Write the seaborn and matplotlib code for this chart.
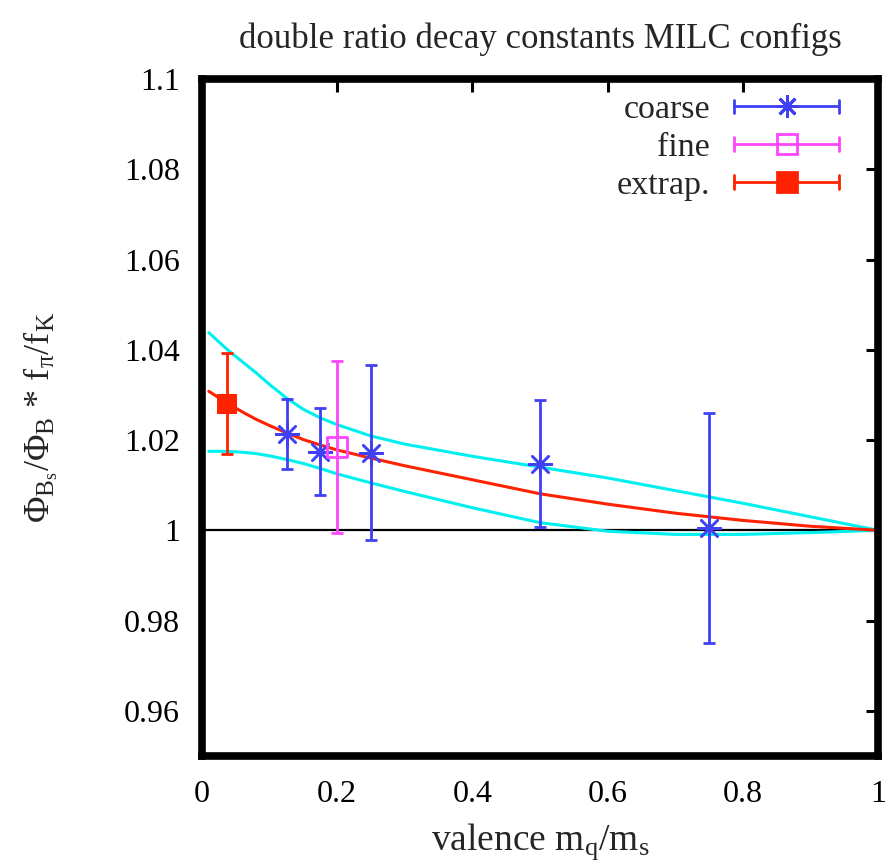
import numpy as np
import pandas as pd
import seaborn as sns
import matplotlib
matplotlib.use("Agg")
import matplotlib.pyplot as plt
from matplotlib.lines import Line2D
from matplotlib.legend_handler import HandlerBase

# ---- data -------------------------------------------------------------
coarse_x = [0.125, 0.175, 0.25, 0.5, 0.75]
coarse_y = [1.0213, 1.0174, 1.0172, 1.0148, 1.0005]
coarse_err = [0.0077, 0.0096, 0.0194, 0.0140, 0.0254]

fine_x = [0.2]
fine_y = [1.0185]
fine_err = [0.0190]

extrap_x = [0.037]
extrap_y = [1.028]
extrap_err = [0.0112]

# chiral fit and its error band
fit_x = [0.01, 0.037, 0.06, 0.08, 0.1, 0.125, 0.15, 0.175, 0.2, 0.25, 0.3,
         0.4, 0.5, 0.6, 0.7, 0.8, 0.9, 1.0]
fit_y = [1.0308, 1.0282, 1.0262, 1.0246, 1.0232, 1.0216, 1.0201, 1.0189,
         1.0178, 1.0160, 1.0143, 1.0112, 1.0081, 1.0058, 1.0038, 1.0022,
         1.0009, 1.0]
band_hi = [1.0438, 1.0401, 1.0373, 1.0349, 1.0323, 1.0293, 1.0268, 1.0249,
           1.0234, 1.0209, 1.0191, 1.0164, 1.0140, 1.0116, 1.0088, 1.0060,
           1.0030, 1.0]
band_lo = [1.0175, 1.0175, 1.0173, 1.0170, 1.0165, 1.0157, 1.0148, 1.0137,
           1.0125, 1.0105, 1.0086, 1.0050, 1.0017, 0.9998, 0.9991, 0.9991,
           0.9995, 1.0]

xticks = [0, 0.2, 0.4, 0.6, 0.8, 1]
xticklabels = ["0", "0.2", "0.4", "0.6", "0.8", "1"]
yticks = [0.96, 0.98, 1.0, 1.02, 1.04, 1.06, 1.08, 1.1]
yticklabels = ["0.96", "0.98", "1", "1.02", "1.04", "1.06", "1.08", "1.1"]

# ---- style ------------------------------------------------------------
sns.set_theme(style="white")
plt.rcParams["font.family"] = ["Liberation Serif", "DejaVu Serif"]
plt.rcParams["mathtext.fontset"] = "custom"
plt.rcParams["mathtext.rm"] = "Liberation Serif"
plt.rcParams["mathtext.it"] = "Liberation Serif"
plt.rcParams["mathtext.bf"] = "Liberation Serif:bold"

BLUE = "#4040f5"
MAGENTA = "#ff44ff"
RED = "#ff2200"
CYAN = "#00f0f0"
FS_TICK = 23
FS_KEY = 24.5
FS_LABEL = 26

fig = plt.figure(figsize=(8.9, 8.64), dpi=100)
ax = fig.add_axes([0.227, 0.125, 0.7595, 0.7836])

fit_df = pd.DataFrame({"x": fit_x, "fit": fit_y, "hi": band_hi, "lo": band_lo})

ax.axhline(1.0, color="black", lw=1.6, zorder=1)
for col, c in (("hi", CYAN), ("lo", CYAN), ("fit", RED)):
    sns.lineplot(data=fit_df, x="x", y=col, ax=ax, color=c, lw=2.2,
                 sort=False, estimator=None, zorder=2)

asterisk = (8, 2, 0)
ax.errorbar(coarse_x, coarse_y, yerr=coarse_err, fmt="none", ecolor=BLUE,
            elinewidth=2, capsize=4, capthick=2, zorder=3)
sns.scatterplot(x=coarse_x, y=coarse_y, ax=ax, marker=asterisk, s=270,
                color=BLUE, linewidth=1.8, edgecolor=BLUE, zorder=4)

ax.errorbar(fine_x, fine_y, yerr=fine_err, fmt="none", ecolor=MAGENTA,
            elinewidth=2, capsize=4, capthick=2, zorder=3)
sns.scatterplot(x=fine_x, y=fine_y, ax=ax, marker="s", s=200,
                facecolor="none", edgecolor=MAGENTA, linewidth=2, zorder=4)

ax.errorbar(extrap_x, extrap_y, yerr=extrap_err, fmt="none", ecolor=RED,
            elinewidth=2, capsize=4, capthick=2, zorder=3)
sns.scatterplot(x=extrap_x, y=extrap_y, ax=ax, marker="s", s=210,
                color=RED, edgecolor=RED, linewidth=0, zorder=4)

ax.set_xlim(0, 1)
ax.set_ylim(0.95, 1.1)
ax.set_xticks(xticks)
ax.set_xticklabels(xticklabels)
ax.set_yticks(yticks)
ax.set_yticklabels(yticklabels)
ax.tick_params(axis="both", direction="in", length=9, width=2.2,
               labelsize=FS_TICK, top=True, right=True, colors="black")
ax.tick_params(axis="y", pad=16)
ax.tick_params(axis="x", pad=17)
for sp in ax.spines.values():
    sp.set_visible(True)
    sp.set_color("black")
    sp.set_linewidth(5.5)

ax.set_xlabel(r"valence m$_\mathrm{q}$/m$_\mathrm{s}$", fontsize=27,
              labelpad=9)
ax.set_ylabel(r"$\mathrm{\Phi_{B_s}/\Phi_B}$ * f$_\pi$/f$_\mathrm{K}$",
              fontsize=FS_LABEL, labelpad=46)
ax.set_title("double ratio decay constants MILC configs", fontsize=25, pad=22)


class ErrorbarKey(HandlerBase):
    """Horizontal error-bar sample with end caps and a centred marker."""

    def __init__(self, marker, ms, mfc, **kw):
        super().__init__(**kw)
        self.marker, self.ms, self.mfc = marker, ms, mfc

    def create_artists(self, legend, orig_handle, xdescent, ydescent,
                       width, height, fontsize, trans):
        c = orig_handle.get_color()
        y = height / 2 - ydescent
        x0, x1 = -xdescent, width - xdescent
        cap = 5
        arts = [
            Line2D([x0, x1], [y, y], color=c, lw=2),
            Line2D([x0, x0], [y - cap, y + cap], color=c, lw=2),
            Line2D([x1, x1], [y - cap, y + cap], color=c, lw=2),
            Line2D([(x0 + x1) / 2], [y], marker=self.marker, ms=self.ms,
                   mfc=self.mfc, mec=c, mew=2, ls="none"),
        ]
        for a in arts:
            a.set_transform(trans)
        return arts


h_coarse = Line2D([], [], color=BLUE)
h_fine = Line2D([], [], color=MAGENTA)
h_extrap = Line2D([], [], color=RED)
ax.legend([h_coarse, h_fine, h_extrap], ["coarse", "fine", "extrap."],
          handler_map={h_coarse: ErrorbarKey(asterisk, 16, BLUE),
                       h_fine: ErrorbarKey("s", 14, "none"),
                       h_extrap: ErrorbarKey("s", 14, RED)},
          loc="upper right", bbox_to_anchor=(0.943, 0.977), frameon=False,
          markerfirst=False, fontsize=FS_KEY, handlelength=3.1,
          handletextpad=0.7, labelspacing=0.2, borderpad=0, borderaxespad=0)

fig.savefig("out.png", dpi=100)
